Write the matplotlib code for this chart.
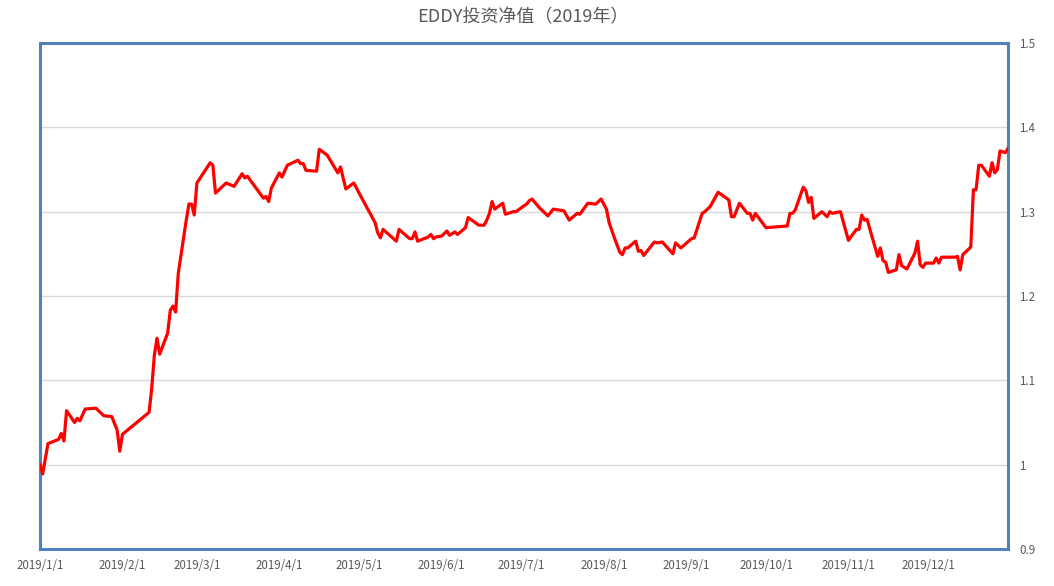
import matplotlib
matplotlib.use("Agg")
import matplotlib.pyplot as plt
import numpy as np
import pandas as pd

plt.rcParams['font.family'] = ['Noto Sans CJK SC', 'DejaVu Sans']

title = "EDDY投资净值（2019年）"

dates = [
    "2019-01-01", "2019-01-02", "2019-01-04", "2019-01-08", "2019-01-09", "2019-01-10",
    "2019-01-11", "2019-01-14", "2019-01-15", "2019-01-16", "2019-01-18", "2019-01-22",
    "2019-01-25", "2019-01-28", "2019-01-30", "2019-01-31", "2019-02-01", "2019-02-11",
    "2019-02-12", "2019-02-13", "2019-02-14", "2019-02-15", "2019-02-18", "2019-02-19",
    "2019-02-20", "2019-02-21", "2019-02-22", "2019-02-25", "2019-02-26", "2019-02-27",
    "2019-02-28", "2019-03-01", "2019-03-06", "2019-03-07", "2019-03-08", "2019-03-12",
    "2019-03-15", "2019-03-18", "2019-03-19", "2019-03-20", "2019-03-26", "2019-03-27",
    "2019-03-28", "2019-03-29", "2019-04-01", "2019-04-02", "2019-04-04", "2019-04-08",
    "2019-04-09", "2019-04-10", "2019-04-11", "2019-04-15", "2019-04-16", "2019-04-19",
    "2019-04-23", "2019-04-24", "2019-04-26", "2019-04-29", "2019-05-01", "2019-05-07",
    "2019-05-08", "2019-05-09", "2019-05-10", "2019-05-15", "2019-05-16", "2019-05-20",
    "2019-05-21", "2019-05-22", "2019-05-23", "2019-05-27", "2019-05-28", "2019-05-29",
    "2019-05-30", "2019-06-01", "2019-06-03", "2019-06-04", "2019-06-06", "2019-06-07",
    "2019-06-10", "2019-06-11", "2019-06-15", "2019-06-17", "2019-06-18", "2019-06-19",
    "2019-06-20", "2019-06-21", "2019-06-24", "2019-06-25", "2019-06-28", "2019-06-29",
    "2019-07-02", "2019-07-03", "2019-07-04", "2019-07-05", "2019-07-08", "2019-07-11",
    "2019-07-13", "2019-07-17", "2019-07-19", "2019-07-22", "2019-07-23", "2019-07-26",
    "2019-07-29", "2019-07-31", "2019-08-02", "2019-08-03", "2019-08-05", "2019-08-07",
    "2019-08-08", "2019-08-09", "2019-08-10", "2019-08-13", "2019-08-14", "2019-08-15",
    "2019-08-16", "2019-08-20", "2019-08-21", "2019-08-23", "2019-08-27", "2019-08-28",
    "2019-08-30", "2019-09-03", "2019-09-04", "2019-09-07", "2019-09-08", "2019-09-10",
    "2019-09-13", "2019-09-17", "2019-09-18", "2019-09-19", "2019-09-21", "2019-09-24",
    "2019-09-25", "2019-09-26", "2019-09-27", "2019-10-01", "2019-10-09", "2019-10-10",
    "2019-10-11", "2019-10-12", "2019-10-15", "2019-10-16", "2019-10-17", "2019-10-18",
    "2019-10-19", "2019-10-22", "2019-10-24", "2019-10-25", "2019-10-26", "2019-10-29",
    "2019-11-01", "2019-11-04", "2019-11-05", "2019-11-06", "2019-11-07", "2019-11-08",
    "2019-11-12", "2019-11-13", "2019-11-14", "2019-11-15", "2019-11-16", "2019-11-19",
    "2019-11-20", "2019-11-21", "2019-11-23", "2019-11-26", "2019-11-27", "2019-11-28",
    "2019-11-29", "2019-11-30", "2019-12-03", "2019-12-04", "2019-12-05", "2019-12-06",
    "2019-12-09", "2019-12-11", "2019-12-12", "2019-12-13", "2019-12-14", "2019-12-17",
    "2019-12-18", "2019-12-19", "2019-12-20", "2019-12-21", "2019-12-24", "2019-12-25",
    "2019-12-26", "2019-12-27", "2019-12-28", "2019-12-30", "2019-12-31",
]

values = [
    1.000, 0.989, 1.025, 1.030, 1.037, 1.028,
    1.064, 1.050, 1.055, 1.052, 1.066, 1.067,
    1.058, 1.057, 1.041, 1.016, 1.036, 1.062,
    1.090, 1.130, 1.150, 1.131, 1.156, 1.183,
    1.188, 1.181, 1.227, 1.290, 1.309, 1.309,
    1.296, 1.334, 1.358, 1.355, 1.322, 1.334,
    1.330, 1.345, 1.340, 1.342, 1.316, 1.318,
    1.312, 1.328, 1.346, 1.341, 1.355, 1.361,
    1.357, 1.357, 1.349, 1.348, 1.374, 1.367,
    1.346, 1.353, 1.327, 1.334, 1.322, 1.287,
    1.275, 1.269, 1.279, 1.265, 1.279, 1.268,
    1.268, 1.276, 1.265, 1.270, 1.273, 1.268,
    1.270, 1.271, 1.277, 1.272, 1.276, 1.273,
    1.281, 1.293, 1.284, 1.284, 1.290, 1.298,
    1.312, 1.303, 1.310, 1.297, 1.300, 1.300,
    1.307, 1.309, 1.313, 1.315, 1.304, 1.295,
    1.303, 1.301, 1.290, 1.298, 1.297, 1.310,
    1.309, 1.315, 1.303, 1.287, 1.269, 1.252,
    1.249, 1.257, 1.257, 1.265, 1.253, 1.254,
    1.248, 1.264, 1.263, 1.264, 1.250, 1.263,
    1.257, 1.268, 1.269, 1.298, 1.300, 1.306,
    1.323, 1.314, 1.294, 1.294, 1.310, 1.298,
    1.298, 1.290, 1.298, 1.281, 1.283, 1.298,
    1.298, 1.302, 1.329, 1.325, 1.311, 1.317,
    1.292, 1.300, 1.294, 1.300, 1.298, 1.300,
    1.266, 1.279, 1.279, 1.296, 1.290, 1.291,
    1.247, 1.257, 1.242, 1.240, 1.228, 1.231,
    1.249, 1.236, 1.232, 1.251, 1.265, 1.237,
    1.234, 1.239, 1.239, 1.245, 1.239, 1.246,
    1.246, 1.246, 1.247, 1.231, 1.249, 1.258,
    1.326, 1.326, 1.355, 1.355, 1.342, 1.358,
    1.346, 1.350, 1.372, 1.370, 1.375,
]

y_ticks = [0.9, 1.0, 1.1, 1.2, 1.3, 1.4, 1.5]
y_tick_labels = ["0.9", "1", "1.1", "1.2", "1.3", "1.4", "1.5"]
x_tick_dates = ["2019-01-01", "2019-02-01", "2019-03-01", "2019-04-01", "2019-05-01",
                "2019-06-01", "2019-07-01", "2019-08-01", "2019-09-01", "2019-10-01",
                "2019-11-01", "2019-12-01"]
x_tick_labels = ["2019/1/1", "2019/2/1", "2019/3/1", "2019/4/1", "2019/5/1", "2019/6/1",
                 "2019/7/1", "2019/8/1", "2019/9/1", "2019/10/1", "2019/11/1", "2019/12/1"]

W, H = 1054, 586
fig = plt.figure(figsize=(W / 100, H / 100), dpi=100)
ax = fig.add_axes([40 / W, 1 - 549 / H, (1008 - 40) / W, (549 - 43) / H])

x = pd.to_datetime(dates)
ax.plot(x, values, color="#FF0000", linewidth=2.3, solid_joinstyle="round", zorder=3)

ax.set_xlim(pd.Timestamp("2019-01-01"), pd.Timestamp("2019-12-31"))
ax.set_ylim(0.9, 1.5)

ax.yaxis.tick_right()
ax.set_yticks(y_ticks)
ax.set_yticklabels(y_tick_labels)
ax.set_xticks(pd.to_datetime(x_tick_dates))
ax.set_xticklabels(x_tick_labels)
ax.tick_params(axis="both", length=0, labelsize=8.3, labelcolor="#595959")
ax.tick_params(axis="y", pad=8)
ax.tick_params(axis="x", pad=7)

ax.grid(axis="y", color="#D9D9D9", linewidth=1.0, zorder=0)
ax.grid(axis="x", visible=False)
for sp in ax.spines.values():
    sp.set_color("#4F81BD")
    sp.set_linewidth(2.2)

fig.text(523 / W, 1 - 17 / H, title, ha="center", va="center", fontsize=13, color="#595959")

fig.savefig("out.png", dpi=100)
